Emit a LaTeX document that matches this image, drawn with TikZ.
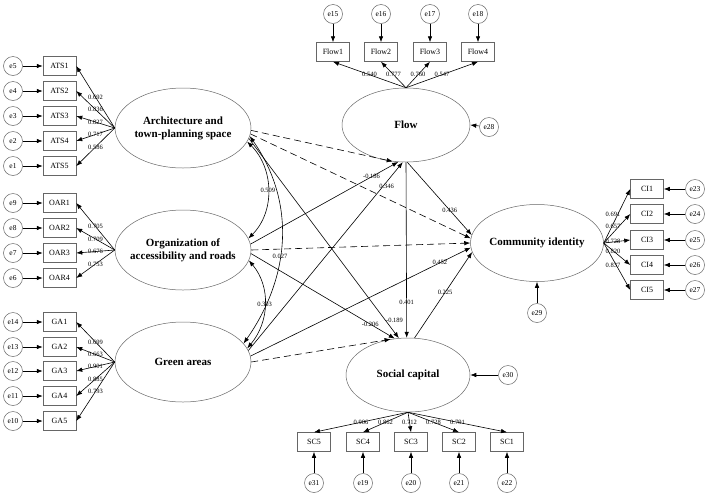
\documentclass[tikz,border=0pt]{standalone}
\usepackage{fontspec}
\setmainfont{Liberation Serif}
\usetikzlibrary{arrows.meta}
\usetikzlibrary{shapes.geometric}

\tikzset{
  latent/.style   = {ellipse, draw=black!60, line width=0.5pt,
                     minimum width=136pt, minimum height=80pt,
                     inner xsep=-8pt, inner ysep=0pt, align=center,
                     font=\fontsize{11}{13}\selectfont\bfseries},
  observed/.style = {rectangle, draw=black!60, line width=0.5pt,
                     minimum width=33pt, minimum height=19pt, inner sep=0pt,
                     font=\fontsize{8}{9}\selectfont},
  errvar/.style   = {circle, draw=black!60, line width=0.5pt,
                     minimum size=19pt, inner sep=0pt,
                     font=\fontsize{7.5}{9}\selectfont},
  effect/.style   = {-{Latex[length=6pt,width=4.5pt]}, line width=0.6pt},
  weak/.style     = {effect, dash pattern=on 7pt off 4pt},
  covar/.style    = {{Latex[length=6pt,width=4.5pt]}-{Latex[length=6pt,width=4.5pt]}, line width=0.6pt},
  coef/.style     = {font=\fontsize{6.5}{7}\selectfont, inner sep=0.5pt},
}

\begin{document}
\begin{tikzpicture}[x=1pt,y=1pt]

  \useasboundingbox (0,0) rectangle (708,-496);

  % latent variables
  \node[latent] (ATS) at (183,-128) {Architecture and\\town-planning space};
  \node[latent] (OAR) at (183,-250) {Organization of\\accessibility and roads};
  \node[latent] (GA)  at (183,-362) {Green areas};
  \node[latent, minimum width=128pt, minimum height=74pt] (Flow) at (406,-125) {Flow};
  \node[latent, minimum width=133pt, minimum height=77pt] (CI)   at (537,-243) {Community identity};
  \node[latent, minimum width=124pt, minimum height=74pt] (SC)   at (408,-375) {Social capital};

  % measurement part, left
  \foreach \i/\e/\y/\c in {1/5/66/0.692, 2/4/91/0.836, 3/3/116/0.827, 4/2/141/0.717, 5/1/166/0.586}
  {
    \node[observed] (ATS\i) at (59.5,-\y) {ATS\i};
    \node[errvar] (e\e) at (13,-\y) {e\e};
    \draw[effect] (e\e) -- (ATS\i);
    \draw[effect] (ATS.west) -- node[coef, pos=.5] {\c} (ATS\i.east);
  }
  \foreach \i/\e/\y/\c in {1/9/203/0.705, 2/8/228/0.709, 3/7/253/0.676, 4/6/278/0.753}
  {
    \node[observed] (OAR\i) at (59.5,-\y) {OAR\i};
    \node[errvar] (e\e) at (13,-\y) {e\e};
    \draw[effect] (e\e) -- (OAR\i);
    \draw[effect] (OAR.west) -- node[coef, pos=.5] {\c} (OAR\i.east);
  }
  \foreach \i/\e/\y/\c in {1/14/322/0.699, 2/13/347/0.663, 3/12/371/0.901, 4/11/396/0.885, 5/10/421/0.793}
  {
    \node[observed] (GA\i) at (59.5,-\y) {GA\i};
    \node[errvar] (e\e) at (13,-\y) {e\e};
    \draw[effect] (e\e) -- (GA\i);
    \draw[effect] (GA.west) -- node[coef, pos=.5] {\c} (GA\i.east);
  }

  % measurement part, flow
  \foreach \i/\e/\x/\c in {1/15/333/0.540, 2/16/381/0.777, 3/17/430/0.760, 4/18/478/0.547}
  {
    \node[observed] (Flow\i) at (\x,-52) {Flow\i};
    \node[errvar] (e\e) at (\x,-14) {e\e};
    \draw[effect] (e\e) -- (Flow\i);
    \draw[effect] (Flow.north) -- node[coef, pos=.5] {\c} (Flow\i.south);
  }

  % measurement part, community identity
  \foreach \i/\e/\y/\c/\s in {1/23/189/0.691/10pt, 2/24/214/0.657/6pt, 3/25/240/0.728/1pt, 4/26/265/0.820/-1pt, 5/27/290/0.837/-5.5pt}
  {
    \node[observed] (CI\i) at (647,-\y) {CI\i};
    \node[errvar] (e\e) at (695,-\y) {e\e};
    \draw[effect] (e\e) -- (CI\i);
    \draw[effect] (CI.east) -- node[coef, pos=.35, yshift=\s] {\c} (CI\i.west);
  }

  % measurement part, social capital
  \foreach \i/\e/\x/\c in {5/31/314/0.906, 4/19/363/0.862, 3/20/411/0.712, 2/21/459/0.728, 1/22/507/0.791}
  {
    \node[observed] (SC\i) at (\x,-442) {SC\i};
    \node[errvar] (e\e) at (\x,-483) {e\e};
    \draw[effect] (e\e) -- (SC\i);
    \draw[effect] (SC.south) -- node[coef, pos=.5] {\c} (SC\i.north);
  }

  % disturbances
  \node[errvar] (e28) at (489,-127) {e28};
  \node[errvar] (e29) at (537,-313) {e29};
  \node[errvar] (e30) at (508,-375) {e30};
  \draw[effect] (e28) -- (Flow.east);
  \draw[effect] (e29) -- (CI.south);
  \draw[effect] (e30) -- (SC.east);

  % covariances
  \draw[covar] (ATS.-12) to[out=-45,in=45] node[coef, pos=.5] {0.509} (OAR.10);
  \draw[covar] (ATS.-7) to[out=-55,in=55] node[coef, pos=.58] {0.027} (GA.17);
  \draw[covar] (OAR.-9) to[out=-50,in=50] node[coef, pos=.5] {0.303} (GA.12);

  % structural paths
  \draw[weak] (ATS.-2) -- (Flow.-110);
  \draw[weak] (ATS.-5) -- (CI.176);
  \draw[effect] (ATS.-9) -- node[coef, pos=.91, anchor=west] {-0.189} (SC.104);
  \draw[effect] (OAR.5) -- node[coef, pos=.82] {-0.186} (Flow.-102);
  \draw[weak] (OAR.0) -- (CI.180);
  \draw[effect] (OAR.-3) -- node[coef, pos=.83] {-0.206} (SC.110);
  \draw[effect] (GA.10) -- node[coef, pos=.87, xshift=4pt] {0.346} (Flow.-95);
  \draw[effect] (GA.5) -- node[coef, pos=.86] {0.452} (CI.184);
  \draw[weak] (GA.0) -- (SC.116);
  \draw[effect] (Flow.-88) -- node[coef, pos=.66] {0.436} (CI.173);
  \draw[effect] (Flow.-90) -- node[coef, pos=.8] {0.401} (SC.92);
  \draw[effect] (SC.80) -- node[coef, pos=.53] {0.225} (CI.188);

\end{tikzpicture}
\end{document}
